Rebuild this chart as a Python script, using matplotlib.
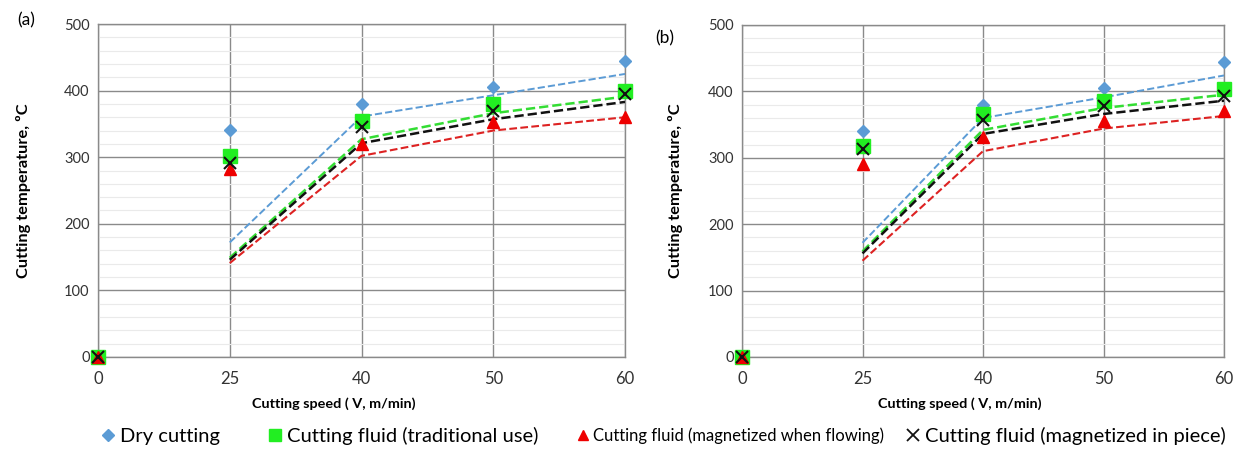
import numpy as np
import matplotlib
matplotlib.use("Agg")
from matplotlib import pyplot as plt
from matplotlib.ticker import MultipleLocator
from matplotlib.lines import Line2D

plt.rcParams['font.family'] = ['Lato', 'DejaVu Sans']

# categories on the x axis (equally spaced, like an Excel line chart)
speeds = ['0', '25', '40', '50', '60']

# panel (a) measured points
dry_a = [0, 341, 380, 406, 445]
trad_a = [0, 302, 355, 380, 399]
flow_a = [0, 282, 320, 353, 360]
piece_a = [0, 292, 345, 370, 395]
# panel (a) dashed trend lines (from 25 to 60)
dry_a_tr = [172, 361, 393, 425]
trad_a_tr = [149, 327, 366, 391]
piece_a_tr = [146, 321, 357, 383]
flow_a_tr = [141, 302, 340, 360]

# panel (b) measured points
dry_b = [0, 341, 379, 405, 445]
trad_b = [0, 318, 366, 386, 404]
flow_b = [0, 290, 331, 356, 370]
piece_b = [0, 314, 357, 378, 393]
# panel (b) dashed trend lines
dry_b_tr = [172, 360, 391, 424]
trad_b_tr = [159, 342, 375, 395]
piece_b_tr = [156, 336, 366, 386]
flow_b_tr = [145, 310, 344, 363]

legend_labels = ['Dry cutting', 'Cutting fluid (traditional use)',
                 'Cutting fluid (magnetized when flowing)', 'Cutting fluid (magnetized in piece)']

c_blue = '#5B9BD5'
c_green = '#22EE22'
c_red = '#EE0000'
c_black = '#111111'


def panel(ax, dry, trad, flow, piece, dry_tr, trad_tr, piece_tr, flow_tr):
    x = np.arange(len(speeds))
    xt = x[1:]
    # trend lines
    ax.plot(xt, dry_tr, '--', color=c_blue, lw=1.4, zorder=3)
    ax.plot(xt, trad_tr, '--', color='#33DD33', lw=1.8, zorder=3)
    ax.plot(xt, piece_tr, '--', color=c_black, lw=1.8, zorder=3)
    ax.plot(xt, flow_tr, '--', color='#DD2222', lw=1.5, zorder=3)
    # points (not clipped, the ones at 0 hang over the axis)
    ax.plot(x, dry, 'D', color=c_blue, ms=6, ls='none', zorder=5, clip_on=False)
    ax.plot(x, trad, 's', color=c_green, ms=10, ls='none', zorder=5, clip_on=False)
    ax.plot(x, flow, '^', color=c_red, ms=9, ls='none', zorder=5, clip_on=False)
    ax.plot(x, piece, 'x', color=c_black, ms=9, mew=1.5, ls='none', zorder=6, clip_on=False)

    ax.set_xlim(0, 4)
    ax.set_ylim(0, 500)
    ax.set_xticks(x)
    ax.set_xticklabels(speeds, fontsize=12, color='#333333')
    ax.yaxis.set_major_locator(MultipleLocator(100))
    ax.yaxis.set_minor_locator(MultipleLocator(20))
    ax.tick_params(axis='y', which='major', labelsize=10.5, labelcolor='#333333', length=0, pad=6)
    ax.tick_params(axis='y', which='minor', length=0)
    ax.tick_params(axis='x', length=0, pad=10)
    ax.grid(True, which='major', axis='both', color='#8a8a8a', lw=1.0, zorder=0)
    ax.grid(True, which='minor', axis='y', color='#eaeaea', lw=0.8, zorder=0)
    ax.set_axisbelow(True)
    for s in ax.spines.values():
        s.set_color('#8a8a8a')
        s.set_linewidth(1.0)
    ax.set_xlabel('Cutting speed ( V, m/min)', fontsize=10.4, fontweight='bold')
    ax.set_ylabel('Cutting temperature, ºC', fontsize=11.8, fontweight='bold')


fig = plt.figure(figsize=(12.4, 4.5), dpi=100)
ax1 = fig.add_axes([98 / 1240, 93 / 450, 527 / 1240, 333 / 450])
ax2 = fig.add_axes([742 / 1240, 93 / 450, 482 / 1240, 332 / 450])

panel(ax1, dry_a, trad_a, flow_a, piece_a, dry_a_tr, trad_a_tr, piece_a_tr, flow_a_tr)
panel(ax2, dry_b, trad_b, flow_b, piece_b, dry_b_tr, trad_b_tr, piece_b_tr, flow_b_tr)
ax1.xaxis.set_label_coords(0.447, -0.12)
ax2.xaxis.set_label_coords(0.452, -0.12)
ax1.yaxis.set_label_coords(-0.128, 0.5)
ax2.yaxis.set_label_coords(-0.122, 0.5)

fig.text(17 / 1240, 1 - 20 / 450, '(a)', fontsize=12.5, va='center')
fig.text(655 / 1240, 1 - 38 / 450, '(b)', fontsize=12.5, va='center')

# legend row, one entry at a time so each sits where it does in the picture
handles = [
    Line2D([], [], marker='D', color=c_blue, ls='none', ms=6),
    Line2D([], [], marker='s', color=c_green, ls='none', ms=8),
    Line2D([], [], marker='^', color=c_red, ls='none', ms=6.5),
    Line2D([], [], marker='x', color=c_black, ls='none', ms=8, mew=1.3),
]
xs = [102, 269, 578, 907]
sizes = [14.5, 14.5, 12, 14.5]
for h, lab, xp, fs in zip(handles, legend_labels, xs, sizes):
    fig.legend([h], [lab], loc='center left', bbox_to_anchor=(xp / 1240, 1 - 436 / 450),
               frameon=False, fontsize=fs, handlelength=0.6, handletextpad=0.3,
               borderpad=0, borderaxespad=0)

fig.savefig('out.png', dpi=100)
